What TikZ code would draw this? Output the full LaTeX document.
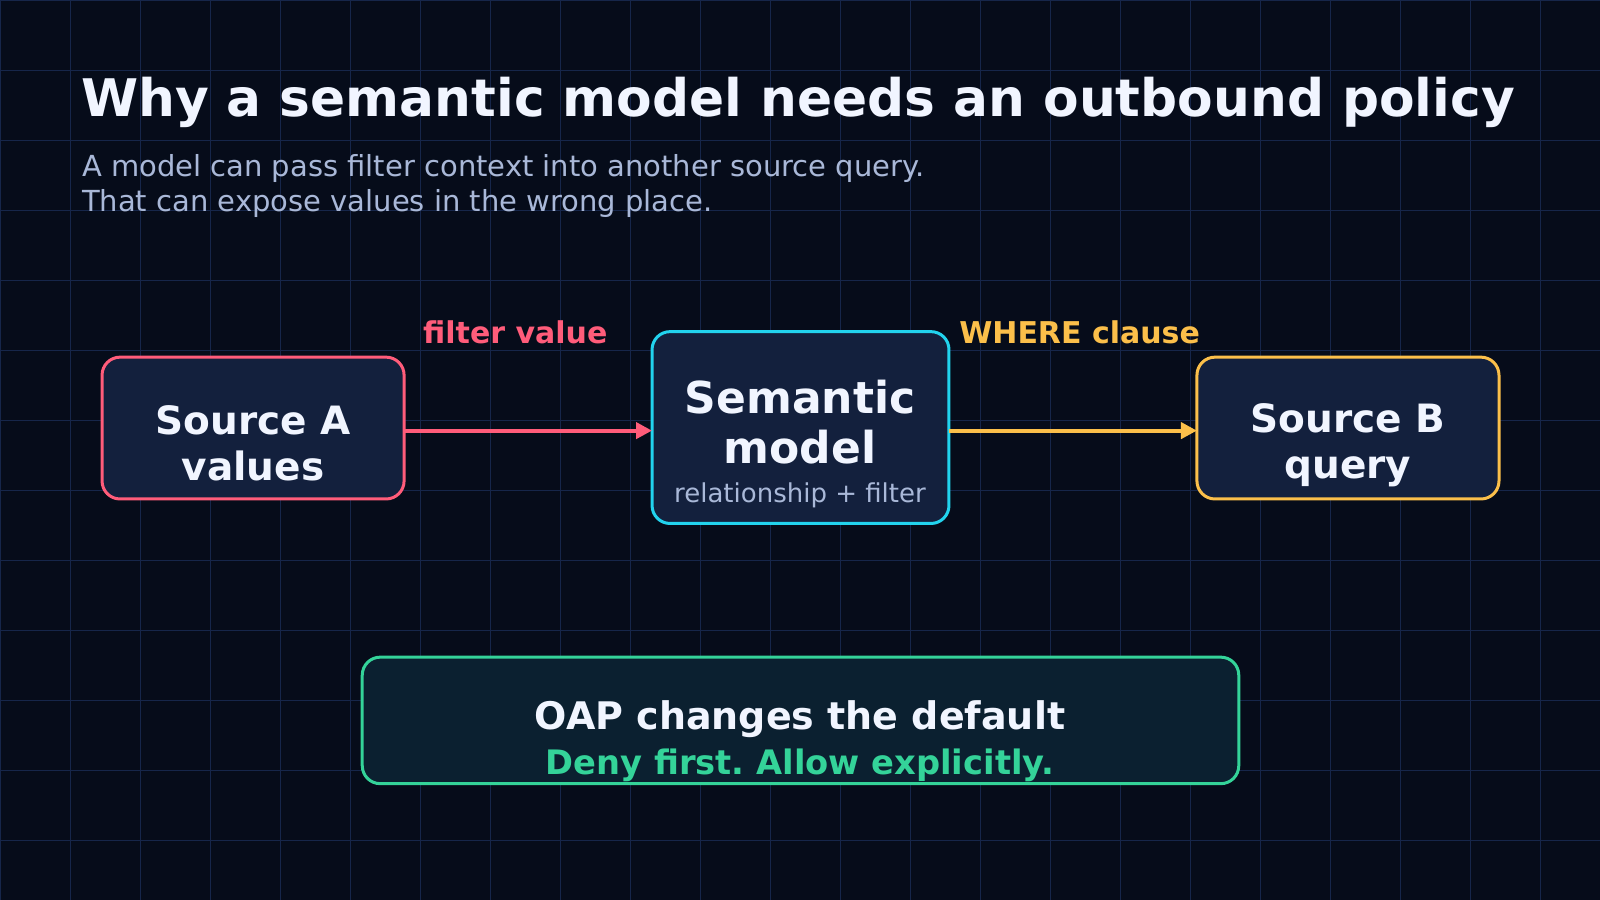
\documentclass[tikz,border=0pt]{standalone}
\usepackage{fontspec}
\setmainfont{DejaVu Sans}
\usetikzlibrary{arrows.meta}
\frenchspacing
\definecolor{bg}{HTML}{060C1A}
\definecolor{gridc}{HTML}{16264A}
\definecolor{boxf}{HTML}{13203D}
\definecolor{redc}{HTML}{FF5C7A}
\definecolor{cyanc}{HTML}{22D3EE}
\definecolor{orc}{HTML}{FBBF4A}
\definecolor{grc}{HTML}{34D399}
\definecolor{botf}{HTML}{0B2030}
\definecolor{subc}{HTML}{A9B8D8}
\definecolor{titc}{HTML}{F1F5FF}
\tikzset{
  card/.style={draw, line width=3pt, rounded corners=18pt, fill=boxf, text=titc, align=center, inner sep=0pt},
  conn/.style={line width=4pt, -{Triangle[length=16pt,width=16pt]}},
}
\begin{document}
\begin{tikzpicture}[x=1.0204pt,y=-1.0204pt]
\fill[bg] (0,0) rectangle (1568,882);
\useasboundingbox (0,0) rectangle (1568,882);
\foreach \i in {0,...,23} \draw[gridc, line width=0.8pt] (\i*68.6,0) -- (\i*68.6,882);
\foreach \j in {0,...,13} \draw[gridc, line width=0.8pt] (0,\j*68.6) -- (1568,\j*68.6);
\node[anchor=west, text=titc, font=\bfseries\fontsize{51.8}{60}\selectfont] (title) at (76,100) {Why a semantic model needs an outbound policy};
\node[anchor=north west, text=subc, align=left, font=\fontsize{29}{35}\selectfont] (sub) at (77,148) {A model can pass filter context into another source query.\\That can expose values in the wrong place.};
\path[card, draw=redc] (100,350) rectangle (396,489);
\node[text=titc, align=center, font=\bfseries\fontsize{39}{46}\selectfont] (a) at (248,434) {Source A\\values};
\coordinate (ar) at (396,422);
\path[card, draw=cyanc] (639,325) rectangle (930,513);
\node[text=titc, align=center, font=\bfseries\fontsize{44}{50}\selectfont] (m) at (784,414) {Semantic\\model};
\node[text=subc, font=\fontsize{26}{30}\selectfont] (ms) at (784,485) {relationship + filter};
\coordinate (ml) at (639,422);
\coordinate (mr) at (930,422);
\path[card, draw=orc] (1173,350) rectangle (1469,489);
\node[text=titc, align=center, font=\bfseries\fontsize{39}{46}\selectfont] (b) at (1321,436) {Source B\\query};
\coordinate (bl) at (1173,422);
\draw[conn, redc] (ar) -- (ml);
\draw[conn, orc] (mr) -- (bl);
\node[text=redc, font=\bfseries\fontsize{30}{34}\selectfont] (l1) at (505,326) {filter value};
\node[text=orc, font=\bfseries\fontsize{30}{34}\selectfont] (l2) at (1058,326) {WHERE clause};
\path[card, draw=grc, fill=botf] (355,644) rectangle (1214,768);
\node[text=titc, font=\bfseries\fontsize{38}{44}\selectfont] (o1) at (784,705) {OAP changes the default};
\node[text=grc, font=\bfseries\fontsize{33.7}{40}\selectfont] (o2) at (784,750) {Deny first. Allow explicitly.};
\end{tikzpicture}
\end{document}
